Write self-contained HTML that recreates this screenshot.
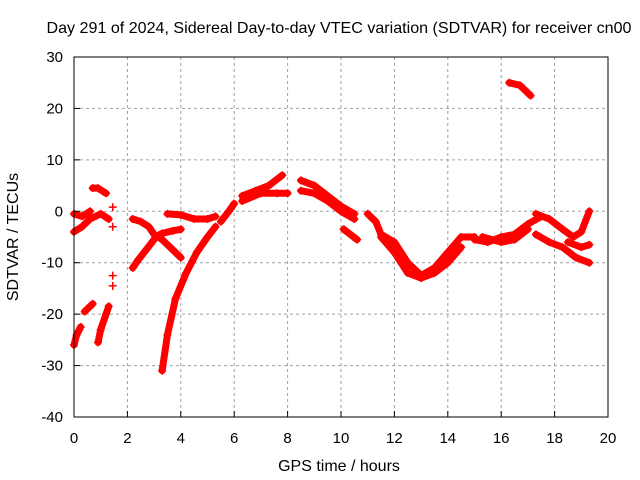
<!DOCTYPE html>
<html><head><meta charset="utf-8"><style>
body{margin:0;background:#fff;}
svg{display:block;font-family:"Liberation Sans",sans-serif;}
</style></head><body>
<svg id="chart" width="640" height="480" viewBox="0 0 640 480">
<rect width="640" height="480" fill="#fff"/>
<text x="339" y="33" font-size="16" text-anchor="middle" textLength="585" lengthAdjust="spacingAndGlyphs">Day 291 of 2024, Sidereal Day-to-day VTEC variation (SDTVAR) for receiver cn00</text>
<g id="grid"></g>
<g id="marks"></g>
<rect x="74" y="57" width="534" height="360" fill="none" stroke="#000" stroke-width="1"/>
<g id="axes"></g>
<text x="339" y="471" font-size="16" text-anchor="middle">GPS time / hours</text>
<text x="18" y="237" font-size="16" text-anchor="middle" transform="rotate(-90 18 237)">SDTVAR / TECUs</text>
</svg>
<script>
const xTicks=[0,2,4,6,8,10,12,14,16,18,20];
const yTicks=[-40,-30,-20,-10,0,10,20,30];
const tracks=[
[[0,-0.5],[0.3,-1],[0.6,0]],
[[0,-4],[0.3,-3],[0.6,-1.5],[1,-0.5],[1.3,-1.5]],
[[0,-26],[0.1,-24],[0.25,-22.5]],
[[0.4,-19.5],[0.7,-18]],
[[0.7,4.5],[0.9,4.5],[1.2,3.5]],
[[0.9,-25.5],[1,-23],[1.2,-20],[1.3,-18.5]],
[[1.45,0.8]],[[1.45,-12.5]],[[1.45,-14.5]],[[1.45,-3]],
[[2.2,-11],[2.4,-9.5],[2.7,-7.5],[3,-5.5]],
[[2.2,-1.5],[2.5,-2],[2.8,-3],[3,-4.5],[3.3,-5.5],[3.6,-7],[4,-9]],
[[3.1,-4.8],[3.3,-4.3],[3.7,-3.8],[4,-3.5]],
[[3.3,-31],[3.5,-24],[3.8,-17],[4.2,-12],[4.6,-8],[5,-5],[5.3,-3]],
[[3.5,-0.5],[4,-0.7],[4.5,-1.5],[5,-1.5],[5.3,-1]],
[[5.5,-2],[5.8,0],[6,1.5]],
[[6.3,3],[6.8,4],[7.3,5],[7.8,7]],
[[6.3,2],[7,3.5],[7.6,3.5],[8,3.5]],
[[8.5,6],[9,5],[9.5,3],[10,1],[10.5,-0.5]],
[[8.5,4],[9,3.5],[9.5,2],[10,0],[10.5,-1.5]],
[[10.1,-3.5],[10.6,-5.5]],
[[11,-0.5],[11.3,-2],[11.5,-4.5],[12,-6],[12.5,-10],[13,-12.5],[13.5,-11],[14,-8],[14.5,-5],[15,-5]],
[[11.5,-5],[12,-8],[12.5,-12],[13,-13],[13.5,-12],[14,-10],[14.5,-7]],
[[15,-5.5],[15.5,-6],[16,-5],[16.5,-4.5],[17,-2.5],[17.5,-1]],
[[15.3,-5],[16,-6],[16.5,-5.5],[17,-3.5]],
[[16.3,25],[16.7,24.5],[17.1,22.5]],
[[17.3,-0.5],[17.8,-1.5],[18.3,-3.5],[18.7,-5],[19,-4],[19.3,0]],
[[17.3,-4.5],[17.8,-6],[18.3,-7],[18.8,-9],[19.3,-10]],
[[18.5,-6],[19,-7],[19.3,-6.5]]
];
const NS='http://www.w3.org/2000/svg';
const X=v=>74+v*(534/20);
const Y=v=>417-(v+40)*(360/70);
const grid=document.getElementById('grid'),axes=document.getElementById('axes'),marks=document.getElementById('marks');
function mk(t,a,p){const e=document.createElementNS(NS,t);for(const k in a)e.setAttribute(k,a[k]);p.appendChild(e);return e;}
xTicks.forEach(v=>{
  if(v>0&&v<20){const g=mk('line',{x1:X(v),x2:X(v),y1:57,y2:417,stroke:'#a0a0a0','stroke-dasharray':'3,3'},grid);
  
  }
  const t=mk('line',{x1:X(v),x2:X(v),y1:417,y2:411,stroke:'#000'},axes);
  
  
  const l=mk('text',{x:X(v),y:443,'font-size':15,'text-anchor':'middle'},axes);l.textContent=v;
  
  
});
yTicks.forEach(v=>{
  if(v>-40&&v<30){const g=mk('line',{x1:74,x2:608,y1:Y(v),y2:Y(v),stroke:'#a0a0a0','stroke-dasharray':'3,3'},grid);
  
  }
  const t=mk('line',{x1:74,x2:80,y1:Y(v),y2:Y(v),stroke:'#000'},axes);
  
  
  const l=mk('text',{x:63,y:Y(v)+5,'font-size':15,'text-anchor':'end'},axes);l.textContent=v;
  
  
});
tracks.forEach(tr=>{
  if(tr.length>1){const p=mk('polyline',{points:tr.map(d=>X(d[0])+','+Y(d[1])).join(' '),fill:'none',stroke:'#f00','stroke-width':7,'stroke-linejoin':'round','stroke-linecap':'round'},marks);
  
  }
  tr.forEach(d=>{
    const m=mk('path',{d:`M${X(d[0])-4},${Y(d[1])}h8M${X(d[0])},${Y(d[1])-4}v8`,stroke:'#f00','stroke-width':1.5},marks);
    
    
  });
});
</script>
</body></html>
